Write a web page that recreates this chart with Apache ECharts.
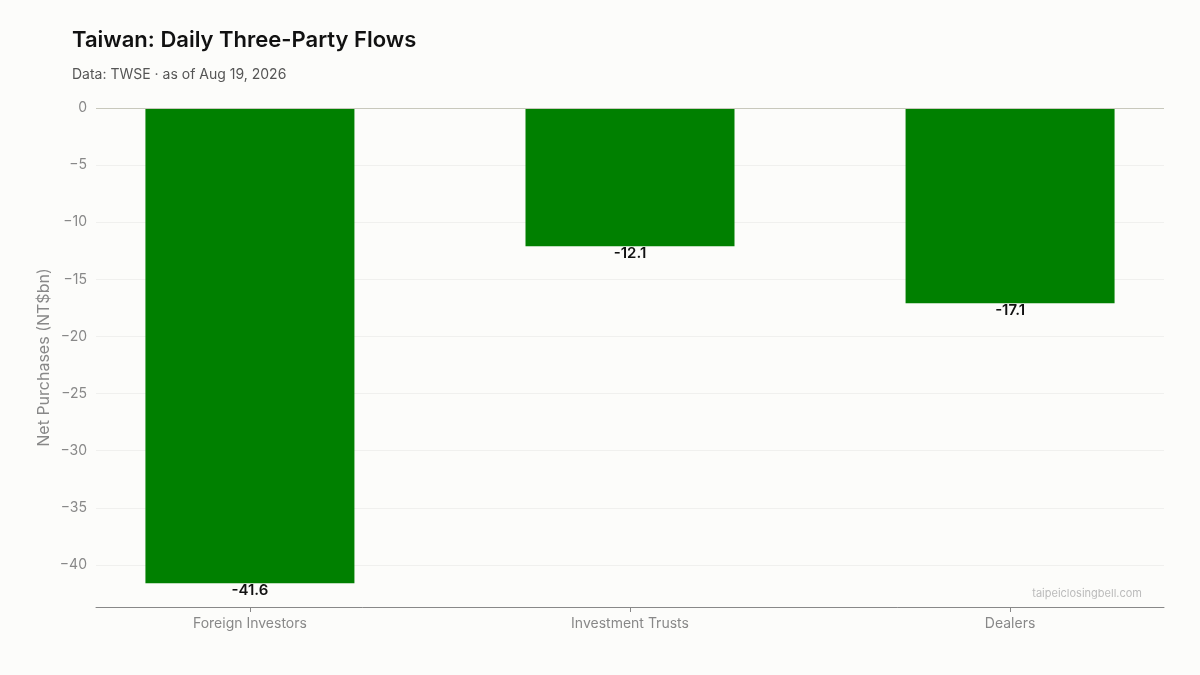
<!DOCTYPE html>
<html>
<head>
<meta charset="utf-8">
<script src="https://cdn.jsdelivr.net/npm/echarts@6/dist/echarts.min.js"></script>
<style>
  html, body { margin: 0; padding: 0; background: #fcfcfa; }
  #main { width: 1200px; height: 675px; }
</style>
</head>
<body>
<div id="main"></div>
<script>
// categories and values (NT$bn)
var categories = ['Foreign Investors', 'Investment Trusts', 'Dealers'];
var netFlows = [-41.6, -12.1, -17.1];
var yTicks = [0, -5, -10, -15, -20, -25, -30, -35, -40];
var xTicks = [0, 1, 2];

var myChart = echarts.init(document.getElementById('main'));

// bars sit on a numeric x position (0, 1, 2) so the side padding can match
var barData = netFlows.map(function (v, i) { return [xTicks[i], v]; });

var option = {
    backgroundColor: '#fcfcfa',
    textStyle: { fontFamily: 'Inter' },
    title: {
        text: 'Taiwan: Daily Three-Party Flows',
        subtext: 'Data: TWSE · as of Aug 19, 2026',
        left: 67,
        top: 24,
        itemGap: 17,
        textStyle: { fontSize: 22, fontWeight: 600, color: '#111', fontFamily: 'Inter' },
        subtextStyle: { fontSize: 14, color: '#555', fontFamily: 'Inter' }
    },
    grid: { left: 96, right: 36, top: 108, bottom: 68 },
    xAxis: {
        type: 'value',
        min: -0.405,
        max: 2.405,
        axisLine: { show: true, onZero: false, lineStyle: { color: '#888' } },
        axisTick: { show: true, customValues: xTicks, length: 5, lineStyle: { color: '#888' } },
        axisLabel: {
            color: '#888',
            fontSize: 14,
            margin: 10,
            customValues: xTicks,
            formatter: function (v) { return categories[Math.round(v)] || ''; }
        },
        splitLine: { show: false }
    },
    yAxis: {
        type: 'value',
        max: 0,
        min: -43.68,
        name: 'Net Purchases (NT$bn)',
        nameLocation: 'middle',
        nameGap: 44,
        nameMoveOverlap: false,
        nameTextStyle: { color: '#888', fontSize: 16 },
        axisLine: { show: false },
        axisTick: { show: true, length: 5, customValues: yTicks, lineStyle: { color: '#888' } },
        axisLabel: {
            color: '#888',
            fontSize: 14,
            margin: 9,
            customValues: yTicks,
            formatter: function (v) {
                return v < 0 ? '\u2212' + Math.abs(v) : String(v);
            }
        },
        splitLine: { lineStyle: { color: '#f0f0ee' } }
    },
    series: [{
        type: 'bar',
        data: barData,
        barWidth: 209,
        itemStyle: { color: '#008000' },
        label: {
            show: true,
            position: 'bottom',
            distance: 0,
            color: '#111',
            fontSize: 15,
            fontWeight: 600,
            formatter: function (p) { return p.value[1].toFixed(1); }
        },
        markLine: {
            silent: true,
            symbol: 'none',
            label: { show: false },
            lineStyle: { color: '#c8c8bc', type: 'solid', width: 1 },
            data: [{ yAxis: 0 }]
        }
    }],
    graphic: [{
        type: 'text',
        right: 58,
        top: 588,
        style: { text: 'taipeiclosingbell.com', fill: '#bbb', fontSize: 11, fontFamily: 'Inter' }
    }]
};

myChart.setOption(option);
</script>
</body>
</html>
